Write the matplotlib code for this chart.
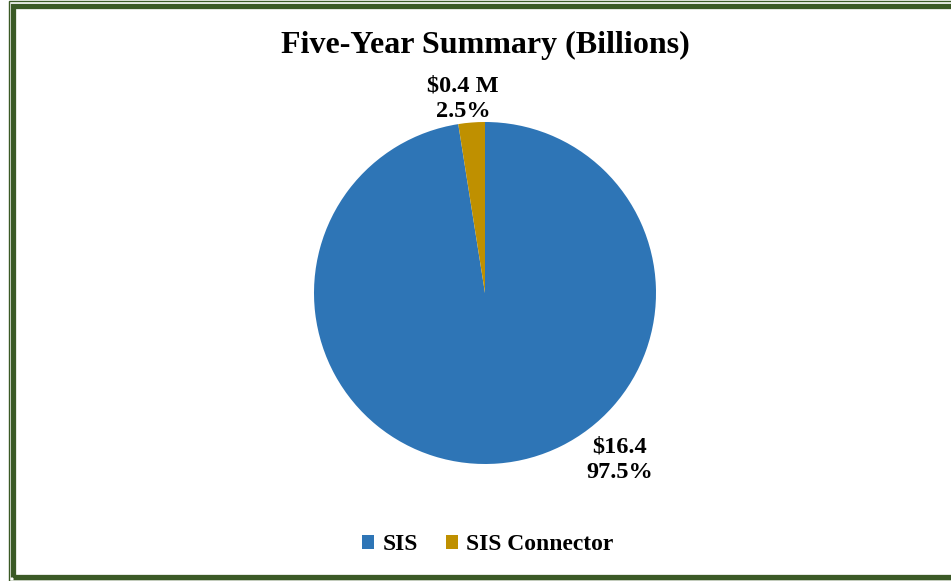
import matplotlib
matplotlib.use("Agg")
import matplotlib.pyplot as plt
from matplotlib.patches import Rectangle

W, H = 951, 581

categories = ["SIS", "SIS Connector"]
amount_labels = ["$16.4", "$0.4 M"]
shares = [97.5, 2.5]
colors = ["#2E75B6", "#BF9000"]
border = "#3B5A26"

plt.rcParams["font.family"] = ["Liberation Serif", "DejaVu Serif"]

fig = plt.figure(figsize=(W / 100, H / 100), dpi=100)
ax = fig.add_axes([0, 0, 1, 1])

cx, cy, r = 485, H - 293, 171
wedges, _ = ax.pie(shares, colors=colors, startangle=90, counterclock=False,
                   center=(cx, cy), radius=r,
                   wedgeprops=dict(linewidth=0))
ax.set_xlim(0, W)
ax.set_ylim(0, H)
ax.set_aspect("equal")
ax.axis("off")

# data labels: amount on top, share below
label_pos = [(cx + 135, cy - 167), (cx - 22, cy + 194)]
for (x, y), amt, pct in zip(label_pos, amount_labels, shares):
    ax.text(x, y, f"{amt}\n{pct}%", ha="center", va="center",
            fontsize=17.5, fontweight="bold", linespacing=1.3)

ax.text(485, H - 45, "Five-Year Summary (Billions)", ha="center", va="center",
        fontsize=23, fontweight="bold")

leg = fig.legend(wedges, categories, loc="center", bbox_to_anchor=(488 / W, 1 - 545 / H),
                 ncol=2, frameon=False, handlelength=0.5, handleheight=0.5,
                 handletextpad=0.35, columnspacing=1.2,
                 prop=dict(size=17, weight="bold"))

# double green frame around the chart area
ax.add_patch(Rectangle((13, 4.5), W + 20, H - 10, fill=False, edgecolor=border,
                       linewidth=3.8, clip_on=False))
ax.add_patch(Rectangle((8.5, 0.5), W + 20, H - 1, fill=False, edgecolor=border,
                       linewidth=1.0, clip_on=False))

fig.savefig("out.png", dpi=100)
